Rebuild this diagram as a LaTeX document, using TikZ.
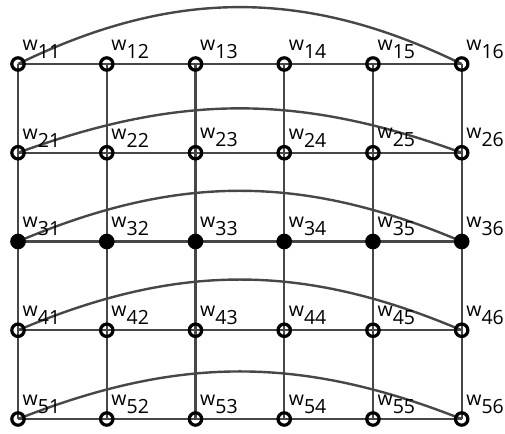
\documentclass[tikz,border=0pt]{standalone}
\usepackage{fontspec}
\setmainfont{Open Sans}
\usetikzlibrary{backgrounds}
\begin{document}
\begin{tikzpicture}[x=1pt,y=-1pt,
  wnode/.style={circle,draw=black,line width=3.2pt,minimum size=12.4pt,inner sep=0pt},
  wfill/.style={wnode,fill=black},
  edge/.style={draw=black!72,line width=2.4pt},
  lab/.style={anchor=south west,inner sep=0pt,font=\fontsize{19.5}{19.5}\selectfont}]
\useasboundingbox (0,0) rectangle (505,433);
\foreach \i in {1,...,5}{
  \foreach \j in {1,...,6}{
    \pgfmathsetmacro{\xx}{18+88.74*(\j-1)}
    \pgfmathsetmacro{\yy}{64+88.75*(\i-1)}
    \ifnum\i=3
      \node[wfill] (n\i\j) at (\xx,\yy) {};
    \else
      \node[wnode] (n\i\j) at (\xx,\yy) {};
    \fi
    \node[lab] (l\i\j) at (\xx+4.5,\yy-5.5) {w\raisebox{-8pt}{\i\j}};
  }
}
\begin{scope}[on background layer]
\foreach \i in {1,...,5}{
  \foreach \j/\k in {1/2,2/3,3/4,4/5,5/6}{
    \draw[edge] (n\i\j.center) -- (n\i\k.center);
  }
}
\foreach \i/\k in {1/2,2/3,3/4,4/5}{
  \foreach \j in {1,...,6}{
    \draw[edge] (n\i\j.center) -- (n\k\j.center);
  }
}
\draw[edge] (n11.center) to[bend left=26] (n16.center);
\draw[edge] (n21.center) to[bend left=20] (n26.center);
\draw[edge] (n31.center) to[bend left=23] (n36.center);
\draw[edge] (n41.center) to[bend left=23] (n46.center);
\draw[edge] (n51.center) to[bend left=21.5] (n56.center);
\end{scope}
\end{tikzpicture}
\end{document}
